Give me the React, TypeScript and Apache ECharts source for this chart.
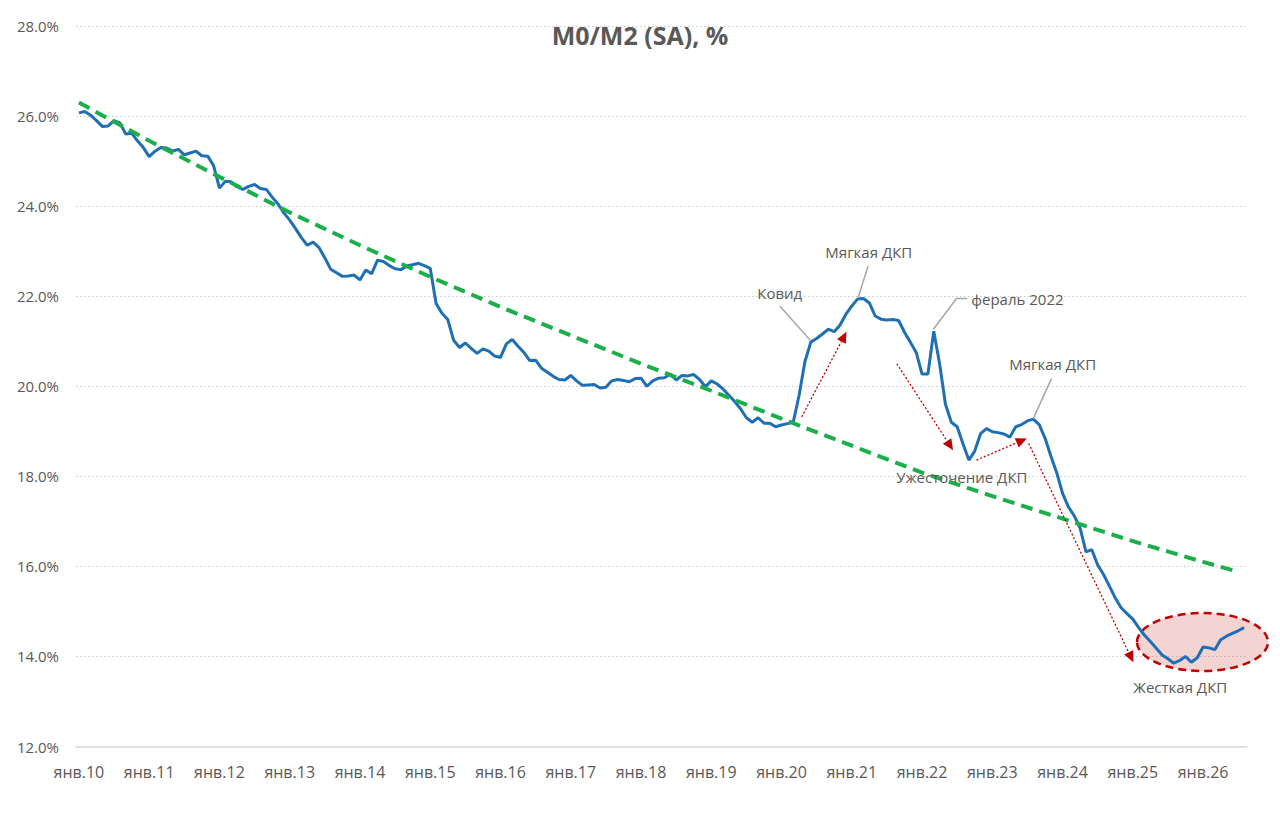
import React, { useEffect, useRef } from "react";
import * as echarts from "echarts";

// ---------- data ----------
const MONTHS_RU = ["янв", "фев", "мар", "апр", "май", "июн", "июл", "авг", "сен", "окт", "ноя", "дек"];
const START_YEAR = 2010;

// M0/M2 (SA), %, monthly from Jan 2010
const M0_M2 = [
  26.07, 26.1, 26.02, 25.9, 25.77, 25.78, 25.9, 25.85, 25.6, 25.62, 25.45, 25.3,
  25.1, 25.22, 25.3, 25.29, 25.22, 25.26, 25.14, 25.18, 25.22, 25.12, 25.11, 24.9,
  24.4, 24.55, 24.54, 24.43, 24.37, 24.44, 24.48, 24.39, 24.37, 24.2, 24.05, 23.85,
  23.69, 23.5, 23.3, 23.13, 23.2, 23.08, 22.85, 22.6, 22.52, 22.44, 22.45, 22.47,
  22.36, 22.58, 22.5, 22.8, 22.77, 22.68, 22.61, 22.59, 22.67, 22.7, 22.73, 22.68,
  22.62, 21.84, 21.62, 21.48, 21.02, 20.86, 20.96, 20.84, 20.73, 20.83, 20.78, 20.67,
  20.64, 20.94, 21.04, 20.89, 20.75, 20.57, 20.58, 20.4, 20.31, 20.22, 20.15, 20.14,
  20.24, 20.12, 20.02, 20.03, 20.04, 19.96, 19.98, 20.12, 20.15, 20.13, 20.1, 20.17,
  20.18, 20.0, 20.12, 20.18, 20.19, 20.27, 20.14, 20.24, 20.23, 20.26, 20.15, 19.99,
  20.12, 20.05, 19.94, 19.8, 19.66, 19.5, 19.3, 19.2, 19.3, 19.18, 19.18, 19.1,
  19.14, 19.17, 19.2, 19.8, 20.55, 20.98, 21.06, 21.16, 21.27, 21.21, 21.36, 21.6,
  21.78, 21.94, 21.95, 21.85, 21.56, 21.49, 21.47, 21.48, 21.46, 21.2, 20.98, 20.75,
  20.27, 20.27, 21.22, 20.5, 19.6, 19.2, 19.1, 18.72, 18.36, 18.56, 18.95, 19.06,
  18.99, 18.97, 18.94, 18.87, 19.1, 19.15, 19.23, 19.27, 19.15, 18.85, 18.45, 18.08,
  17.62, 17.32, 17.12, 16.85, 16.32, 16.37, 16.03, 15.82, 15.56, 15.3, 15.08, 14.95,
  14.83, 14.64, 14.47, 14.33, 14.18, 14.03, 13.95, 13.85, 13.91, 14.0, 13.87, 13.97,
  14.21, 14.19, 14.15, 14.37, 14.45, 14.51, 14.57, 14.64,
];

// trend line read at each January (and its end)
const TREND_INDEX = [0, 12, 24, 36, 48, 60, 72, 84, 96, 108, 120, 132, 144, 156, 168, 180, 192, 198];
const TREND_VALUES = [26.3, 25.45, 24.65, 23.86, 23.13, 22.43, 21.76, 21.13, 20.5, 19.9, 19.28, 18.68, 18.08, 17.56, 17.06, 16.56, 16.1, 15.88];

const Y_MIN = 12;
const Y_MAX = 28;
const Y_STEP = 2;

const CATEGORIES = M0_M2.map((_, i) => {
  const yy = (START_YEAR + Math.floor(i / 12)) % 100;
  return `${MONTHS_RU[i % 12]}.${String(yy).padStart(2, "0")}`;
});

const TREND_SERIES: (number | null)[] = M0_M2.map(() => null);
TREND_INDEX.forEach((idx, k) => {
  TREND_SERIES[idx] = TREND_VALUES[k];
});

// ---------- annotations (in data coordinates: [category index, value]) ----------
const LABELS = [
  { text: "Ковид", at: [119.7, 22.07], align: "center" },
  { text: "Мягкая ДКП", at: [134.9, 22.98], align: "center" },
  { text: "фераль 2022", at: [152.4, 21.93], align: "left" },
  { text: "Мягкая ДКП", at: [166.3, 20.5], align: "center" },
  { text: "Ужесточение ДКП", at: [150.8, 17.98], align: "center" },
  { text: "Жесткая ДКП", at: [188.1, 13.32], align: "center" },
];

const LEADERS = [
  [[119.7, 21.78], [124.9, 21.02]],
  [[134.8, 22.67], [133.1, 21.98]],
  [[145.9, 21.26], [149.9, 21.95], [151.7, 21.95]],
  [[166.1, 20.17], [163.0, 19.28]],
];

const ARROWS = [
  [[123.45, 19.32], [131.1, 21.21]],
  [[139.7, 20.5], [149.3, 18.58]],
  [[153.3, 18.36], [161.9, 18.84]],
  [[162.2, 18.73], [180.1, 13.87]],
];

const ELLIPSE = { center: [191.9, 14.32], rx: 65.5, ry: 29 };

const FONT = "'Open Sans', 'Noto Sans', sans-serif";
const TEXT_COLOR = "#595959";

export default function App() {
  const ref = useRef<HTMLDivElement>(null);

  useEffect(() => {
    document.body.style.margin = "0";
    if (!ref.current) return;
    const chart = echarts.init(ref.current, undefined, { renderer: "svg" });

    const option: any = {
      animation: false,
      backgroundColor: "#ffffff",
      grid: { left: 76, right: 33, top: 26, bottom: 75.5, containLabel: false },
      xAxis: {
        type: "category",
        data: CATEGORIES,
        boundaryGap: true,
        axisTick: { show: false },
        axisLine: { lineStyle: { color: "#D9D9D9", width: 1.5 } },
        axisLabel: {
          interval: 11,
          color: TEXT_COLOR,
          fontSize: 16,
          fontFamily: FONT,
          margin: 17,
        },
        splitLine: { show: false },
      },
      yAxis: {
        type: "value",
        min: Y_MIN,
        max: Y_MAX,
        interval: Y_STEP,
        axisLine: { show: false },
        axisTick: { show: false },
        axisLabel: {
          color: TEXT_COLOR,
          fontSize: 15,
          fontFamily: FONT,
          margin: 17,
          formatter: (v: number) => v.toFixed(1) + "%",
        },
        splitLine: { lineStyle: { color: "#C8C8C8", type: [1.5, 2.5], width: 1 } },
      },
      series: [
        {
          name: "M0/M2",
          type: "line",
          data: M0_M2,
          showSymbol: false,
          symbol: "none",
          lineStyle: { color: "#1F6FB4", width: 3 },
          z: 3,
        },
        {
          name: "trend",
          type: "line",
          data: TREND_SERIES,
          connectNulls: true,
          showSymbol: false,
          symbol: "none",
          lineStyle: { color: "#1BAF4B", width: 4, type: [12, 7] },
          z: 4,
        },
      ],
    };
    chart.setOption(option);

    const x0 = chart.convertToPixel({ xAxisIndex: 0 }, 0) as unknown as number;
    const x1 = chart.convertToPixel({ xAxisIndex: 0 }, M0_M2.length - 1) as unknown as number;
    const P = (p: number[]) => [
      x0 + ((x1 - x0) * p[0]) / (M0_M2.length - 1),
      chart.convertToPixel({ yAxisIndex: 0 }, p[1]) as unknown as number,
    ];

    const graphics: any[] = [];

    graphics.push({
      type: "text",
      x: 640,
      y: 35,
      z: 20,
      style: {
        text: "M0/M2 (SA), %",
        fill: TEXT_COLOR,
        font: `bold 25px ${FONT}`,
        textAlign: "center",
        textVerticalAlign: "middle",
      },
    });

    const ec = P(ELLIPSE.center);
    graphics.push({
      type: "ellipse",
      z: 1,
      shape: { cx: ec[0], cy: ec[1], rx: ELLIPSE.rx, ry: ELLIPSE.ry },
      style: {
        fill: "rgba(220,110,110,0.3)",
        stroke: "#C00000",
        lineWidth: 2.5,
        lineDash: [8, 5],
      },
    });

    LEADERS.forEach((pts) => {
      graphics.push({
        type: "polyline",
        z: 10,
        shape: { points: pts.map(P) },
        style: { stroke: "#A6A6A6", lineWidth: 1.5, fill: null },
      });
    });

    ARROWS.forEach(([a, b]) => {
      const pa = P(a);
      const pb = P(b);
      const dx = pb[0] - pa[0];
      const dy = pb[1] - pa[1];
      const len = Math.sqrt(dx * dx + dy * dy);
      const ux = dx / len;
      const uy = dy / len;
      const head = 11;
      const half = 5;
      const bx = pb[0] - ux * head;
      const by = pb[1] - uy * head;
      graphics.push({
        type: "line",
        z: 10,
        shape: { x1: pa[0], y1: pa[1], x2: bx, y2: by },
        style: { stroke: "#C00000", lineWidth: 1.3, lineDash: [2, 2] },
      });
      graphics.push({
        type: "polygon",
        z: 10,
        shape: {
          points: [
            [pb[0], pb[1]],
            [bx - uy * half, by + ux * half],
            [bx + uy * half, by - ux * half],
          ],
        },
        style: { fill: "#C00000" },
      });
    });

    LABELS.forEach((l) => {
      const p = P(l.at);
      graphics.push({
        type: "text",
        x: p[0],
        y: p[1],
        z: 12,
        style: {
          text: l.text,
          fill: TEXT_COLOR,
          font: `15px ${FONT}`,
          textAlign: l.align,
          textVerticalAlign: "middle",
        },
      });
    });

    chart.setOption({ graphic: graphics });

    return () => chart.dispose();
  }, []);

  return <div ref={ref} style={{ width: 1280, height: 822 }} />;
}
